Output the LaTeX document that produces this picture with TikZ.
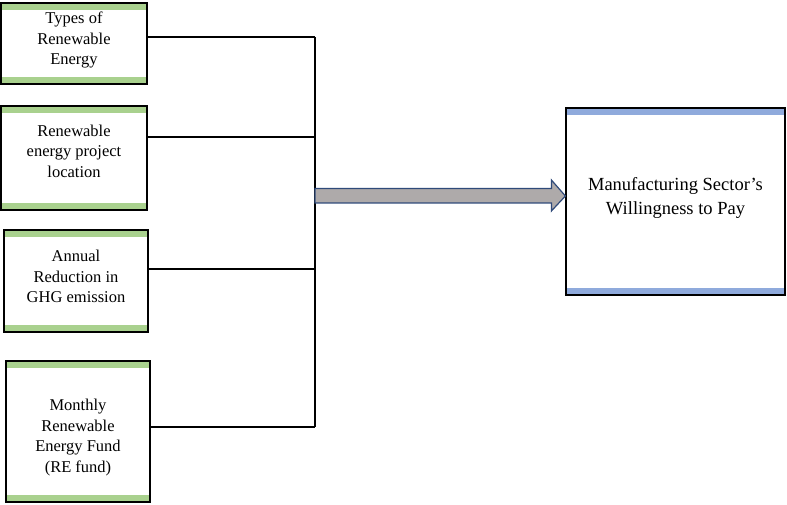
\documentclass[tikz,border=0pt]{standalone}
\usepackage{fontspec}
\setmainfont{Liberation Serif}
\usepackage{tikz}
\usetikzlibrary{arrows.meta,positioning,calc}

\definecolor{barGreen}{HTML}{A9D18E}
\definecolor{barBlue}{HTML}{8FAADC}
\definecolor{arrowFill}{HTML}{AEAAAA}
\definecolor{arrowLine}{HTML}{2F4A7A}

\begin{document}
\begin{tikzpicture}[x=1pt,y=1pt,
  box/.style={draw, line width=1.2pt, align=center, inner sep=0pt},
  factor/.style={box, path picture={
      \fill[barGreen] (path picture bounding box.north west) rectangle
        ([yshift=-7pt]path picture bounding box.north east);
      \fill[barGreen] (path picture bounding box.south west) rectangle
        ([yshift=7pt]path picture bounding box.south east);}},
  outcome/.style={box, path picture={
      \fill[barBlue] (path picture bounding box.north west) rectangle
        ([yshift=-7pt]path picture bounding box.north east);
      \fill[barBlue] (path picture bounding box.south west) rectangle
        ([yshift=7pt]path picture bounding box.south east);}},
  txt/.style={align=center, inner sep=0pt, font=\fontsize{16.5}{20.5}\selectfont},
  bigtxt/.style={align=center, inner sep=0pt, font=\fontsize{18.5}{24}\selectfont},
  link/.style={line width=1.2pt},
  bigarrow/.style={draw=arrowLine, fill=arrowFill, line width=1.2pt, line join=miter}]
  \useasboundingbox (0,0) rectangle (787,505);

  % attributes
  \node[factor, minimum width=146pt, minimum height=81pt] (types) at (74,461.5) {};
  \node[factor, minimum width=146pt, minimum height=104pt] (loc) at (74,347) {};
  \node[factor, minimum width=144pt, minimum height=102pt] (ghg) at (76,224) {};
  \node[factor, minimum width=144pt, minimum height=141pt] (fund) at (78,73.5) {};
  \node[txt] (typesT) at ([yshift=3.5pt]types) {Types of\\Renewable\\Energy};
  \node[txt] (locT) at ([yshift=7pt]loc) {Renewable\\energy project\\location};
  \node[txt] (ghgT) at ([yshift=4.5pt]ghg) {Annual\\Reduction in\\GHG emission};
  \node[txt] (fundT) at ([yshift=-6pt]fund) {Monthly\\Renewable\\Energy Fund\\(RE fund)};

  % outcome
  \node[outcome, minimum width=219pt, minimum height=187pt] (wtp) at (675.5,303.5) {};
  \node[bigtxt] (wtpT) at ([yshift=4pt]wtp) {Manufacturing Sector’s\\Willingness to Pay};

  % bus
  \coordinate (j1) at (315,468);
  \coordinate (j2) at (315,368);
  \coordinate (j3) at (315,236);
  \coordinate (j4) at (315,78);
  \draw[link] (j1) -- (j4);
  \draw[link] (types.east |- j1) -- (j1);
  \draw[link] (loc.east |- j2) -- (j2);
  \draw[link] (ghg.east |- j3) -- (j3);
  \draw[link] (fund.east |- j4) -- (j4);

  % arrow
  \coordinate (as) at (315,309);
  \coordinate (at) at ([yshift=5.5pt]wtp.west);
  \draw[bigarrow] ([yshift=7.5pt]as) -- ([xshift=-14pt,yshift=7.5pt]at)
    -- ([xshift=-14pt,yshift=16pt]at) -- (at)
    -- ([xshift=-14pt,yshift=-15pt]at) -- ([xshift=-14pt,yshift=-7pt]at)
    -- ([yshift=-7pt]as) -- cycle;
\end{tikzpicture}
\end{document}
